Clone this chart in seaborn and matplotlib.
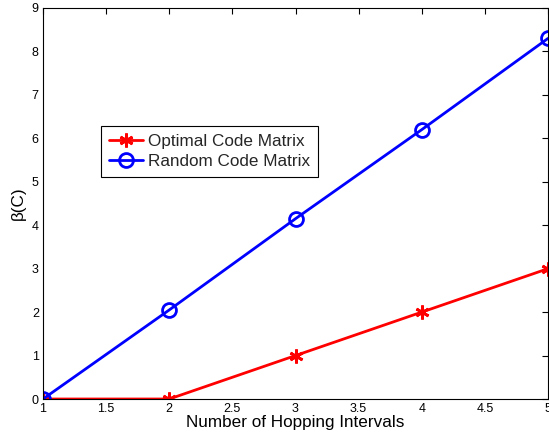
import matplotlib
matplotlib.use("Agg")
import matplotlib.pyplot as plt
import seaborn as sns
import pandas as pd

intervals = [1, 2, 3, 4, 5]
optimal = [0, 0, 1, 2, 3]
random_ = [0, 2.05, 4.15, 6.2, 8.3]

sns.set_theme(style="white")
plt.rcParams['font.family'] = ['Liberation Sans', 'DejaVu Sans']

df = pd.DataFrame({
    "x": intervals * 2,
    "y": optimal + random_,
    "series": ["Optimal Code Matrix"] * 5 + ["Random Code Matrix"] * 5,
})

fig = plt.figure(figsize=(5.49, 4.38), dpi=100)
ax = fig.add_axes([43/549, 39/438, 505/549, 391/438])

sns.lineplot(data=df[df.series == "Optimal Code Matrix"], x="x", y="y", ax=ax,
             color="#ff0000", marker=(6, 2, 0), markersize=10, markeredgewidth=2,
             markeredgecolor="#ff0000", linewidth=2, label="Optimal Code Matrix")
sns.lineplot(data=df[df.series == "Random Code Matrix"], x="x", y="y", ax=ax,
             color="#0000ff", marker="o", markersize=10, markerfacecolor="none",
             markeredgewidth=2, markeredgecolor="#0000ff", linewidth=2,
             label="Random Code Matrix")

ax.set_xlim(1, 5)
ax.set_ylim(0, 9)
ax.set_xticks([1, 1.5, 2, 2.5, 3, 3.5, 4, 4.5, 5])
ax.set_xticklabels(["1", "1.5", "2", "2.5", "3", "3.5", "4", "4.5", "5"])
ax.set_yticks(range(0, 10))
ax.tick_params(direction="in", length=4, width=0.8, top=True, right=True,
               labelsize=9, colors="black", pad=3)
for s in ax.spines.values():
    s.set_color("black")
    s.set_linewidth(0.8)
ax.set_xlabel("Number of Hopping Intervals", fontsize=12.3, color="black", labelpad=0)
ax.set_ylabel("β(C)", fontsize=12.3, color="black", labelpad=4)

leg = ax.legend(loc="upper left", bbox_to_anchor=(0.115, 0.698), borderaxespad=0,
                fontsize=12.3, frameon=True, fancybox=False, edgecolor="black",
                framealpha=1, handlelength=2.0, borderpad=0.45, labelspacing=0.3,
                handletextpad=0.3)
leg.get_frame().set_linewidth(0.8)

fig.savefig("out.png", dpi=100)
